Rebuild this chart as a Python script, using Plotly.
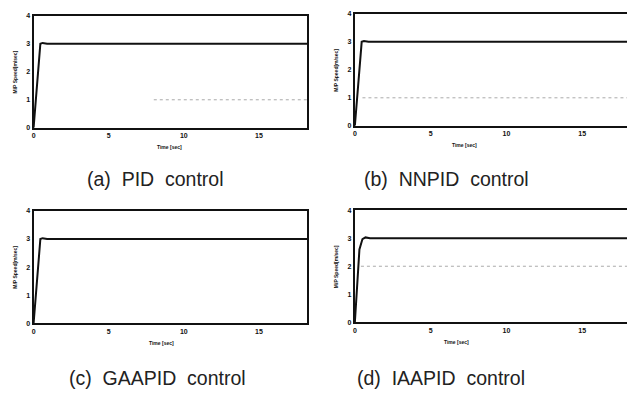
import plotly.graph_objects as go

# ---- data ----
t_resp = [0, 0.45, 0.6, 0.9, 18.2]
y_resp = [0, 3.0, 3.03, 3.0, 3.0]
t_resp_d = [0, 0.3, 0.5, 0.7, 1.0, 18.2]
y_resp_d = [0, 2.6, 2.97, 3.03, 3.0, 3.0]
t_ref_a = [8, 18.2]
y_ref_a = [1, 1]
t_ref_b = [0.5, 18.2]
y_ref_b = [1, 1]
t_ref_d = [0.4, 18.2]
y_ref_d = [2, 2]
x_ticks = [0, 5, 10, 15]
y_ticks = [0, 1, 2, 3, 4]
captions = ["(a)  PID  control", "(b)  NNPID  control", "(c)  GAAPID  control", "(d)  IAAPID  control"]
x_title = "Time [sec]"
y_title = "M/P Speed[m/sec]"

W, H = 627, 393

fig = go.Figure()

# panels: (x0px, x1px, ytop_px, ybot_px, xmax, mirror_right, xtitle_center_px)
panels = [
    (31.7, 306, 12, 126, 18.2, True, 168),
    (354, 627, 10, 124, (627 - 354) / 15.2, False, 464),
    (31.7, 306, 210.7, 325, 18.2, True, 160),
    (354, 627, 210, 324, (627 - 354) / 15.2, False, 456),
]

lines = [
    [(t_resp, y_resp, "solid"), (t_ref_a, y_ref_a, "dot")],
    [(t_resp, y_resp, "solid"), (t_ref_b, y_ref_b, "dot")],
    [(t_resp, y_resp, "solid")],
    [(t_resp_d, y_resp_d, "solid"), (t_ref_d, y_ref_d, "dot")],
]

for i, (x0, x1, yt, yb, xmax, mir, xc) in enumerate(panels):
    n = i + 1
    xa = "x" if n == 1 else f"x{n}"
    ya = "y" if n == 1 else f"y{n}"
    for (tx, ty, dash) in lines[i]:
        if dash == "solid":
            fig.add_trace(go.Scatter(x=tx, y=ty, mode="lines", xaxis=xa, yaxis=ya,
                                     line=dict(color="#111", width=2), showlegend=False,
                                     cliponaxis=False))
        else:
            fig.add_trace(go.Scatter(x=tx, y=ty, mode="lines", xaxis=xa, yaxis=ya,
                                     line=dict(color="#aaa", width=1, dash="dot"), showlegend=False))
    xkey = "xaxis" if n == 1 else f"xaxis{n}"
    ykey = "yaxis" if n == 1 else f"yaxis{n}"
    fig.update_layout(**{
        xkey: dict(domain=[x0 / W, min(x1 / W, 1.0)], range=[0, xmax], anchor=ya,
                   showgrid=False, zeroline=False, showline=True, linecolor="#111",
                   linewidth=2, mirror=True, tickvals=x_ticks, ticks="",
                   tickfont=dict(size=7, color="#111", family="Liberation Sans", weight="bold")),
        ykey: dict(domain=[1 - yb / H, 1 - yt / H], range=[0, 4], anchor=xa,
                   showgrid=False, zeroline=False, showline=True, linecolor="#111",
                   linewidth=2, mirror=mir, tickvals=y_ticks, ticks="",
                   tickfont=dict(size=7, color="#111", family="Liberation Sans", weight="bold")),
    })
    # axis titles
    fig.add_annotation(text=x_title, xref="paper", yref="paper",
                       x=xc / W, y=1 - (yb + 20) / H, xanchor="center", yanchor="middle",
                       showarrow=False, font=dict(size=5, color="#111", family="Liberation Sans", weight="bold"))
    fig.add_annotation(text=y_title, xref="paper", yref="paper", textangle=-90,
                       x=(x0 - 19) / W, y=1 - (yt + yb) / 2 / H, xanchor="center", yanchor="middle",
                       showarrow=False, font=dict(size=5, color="#111", family="Liberation Sans", weight="bold"))

cap_pos = [(154, 178), (446, 178), (156, 381), (440, 381)]
for cap, (cx, cy) in zip(captions, cap_pos):
    fig.add_annotation(text=cap.replace("  ", "&nbsp; "), xref="paper", yref="paper",
                       x=cx / W, y=1 - cy / H, xanchor="center", yanchor="middle", showarrow=False,
                       font=dict(size=19.5, color="#222", family="Liberation Sans"))

fig.update_layout(width=W, height=H, margin=dict(l=0, r=0, t=0, b=0),
                  paper_bgcolor="white", plot_bgcolor="white")

fig.write_html("out.html")
